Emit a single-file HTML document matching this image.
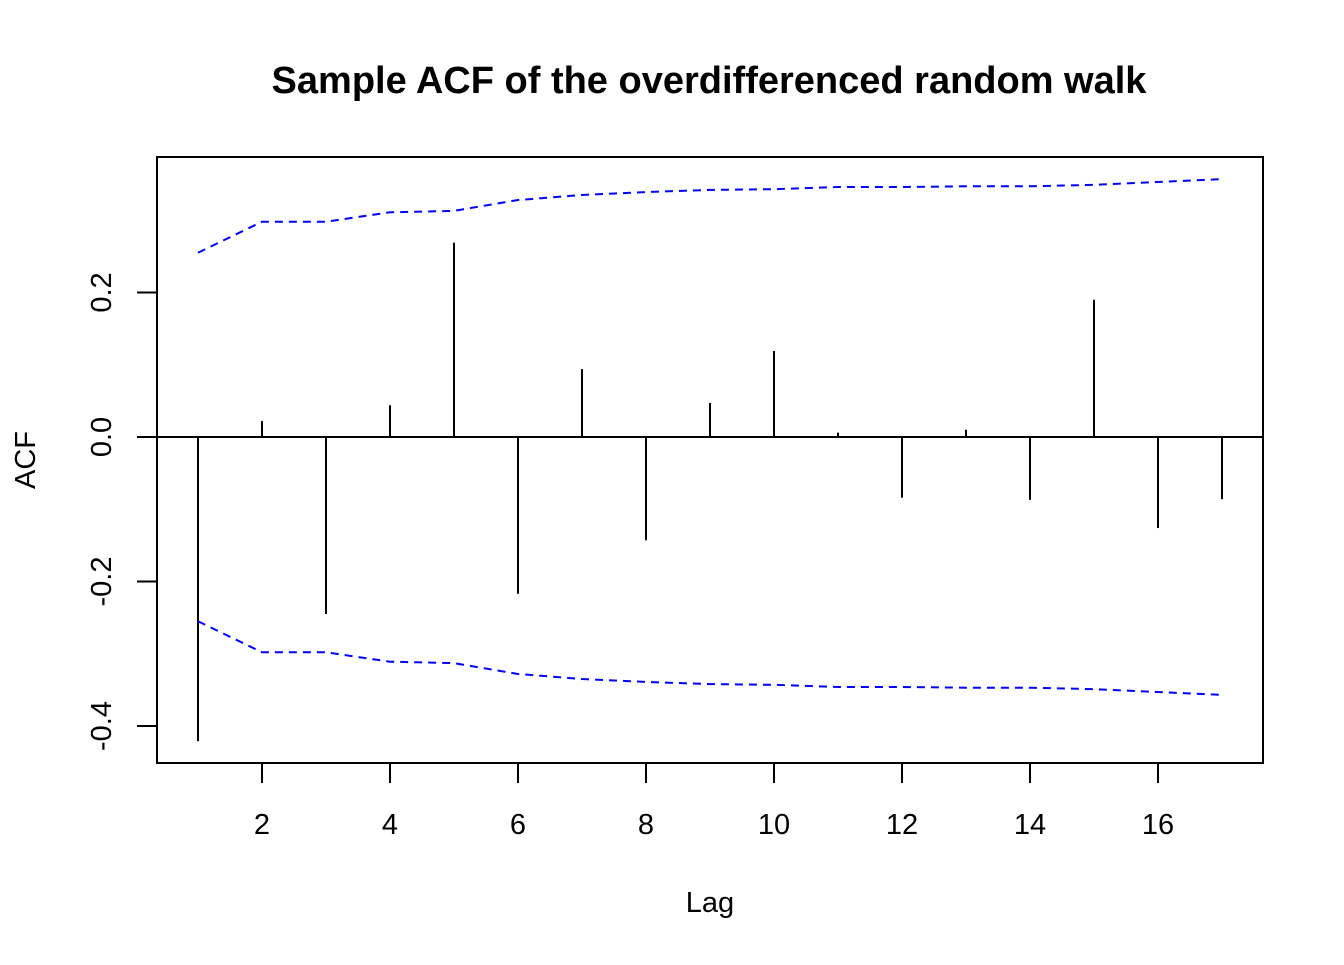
<!DOCTYPE html>
<html><head><meta charset="utf-8"><style>
html,body{margin:0;padding:0;background:#fff}
svg text{font-family:"Liberation Sans",Arial,sans-serif;fill:#000}
</style></head><body>
<svg id="chart" width="1344" height="960" xmlns="http://www.w3.org/2000/svg">
<text x="709" y="93" text-anchor="middle" font-size="38" font-weight="bold">Sample ACF of the overdifferenced random walk</text>
<rect x="157" y="157" width="1106" height="606" fill="none" stroke="#000" stroke-width="2"/>
<text x="710" y="912" text-anchor="middle" font-size="29">Lag</text>
<text transform="translate(35,460) rotate(-90)" text-anchor="middle" font-size="29">ACF</text>
<g id="marks"></g>
</svg>
<script>
const lags=[1,2,3,4,5,6,7,8,9,10,11,12,13,14,15,16,17];
const acfValues=[-0.421,0.022,-0.245,0.044,0.269,-0.217,0.094,-0.143,0.047,0.119,0.006,-0.084,0.010,-0.087,0.190,-0.126,-0.086];
const bounds=[0.255,0.298,0.298,0.311,0.313,0.328,0.335,0.339,0.342,0.343,0.346,0.346,0.347,0.347,0.349,0.353,0.357];
const xTicks=[2,4,6,8,10,12,14,16];
const yTicks=[-0.4,-0.2,0.0,0.2];
const yTickLabels=["-0.4","-0.2","0.0","0.2"];
const NS="http://www.w3.org/2000/svg";
const X=v=>198+(v-1)*64;
const Y=v=>437-v*722.5;
const g=document.getElementById('marks');
function mk(t,a){const e=document.createElementNS(NS,t);for(const k in a)e.setAttribute(k,a[k]);g.appendChild(e);return e;}
const zl=mk('line',{x1:157,x2:1263,y1:Y(0),y2:Y(0),stroke:'#000','stroke-width':2});


lags.forEach((l,i)=>{
 const b=mk('line',{x1:X(l),x2:X(l),y1:Y(0),y2:Y(acfValues[i]),stroke:'#000','stroke-width':2});
 
 
});
const up=lags.map((l,i)=>X(l)+','+Y(bounds[i])).join(' ');
const lo=lags.map((l,i)=>X(l)+','+Y(-bounds[i])).join(' ');
const pu=mk('polyline',{points:up,fill:'none',stroke:'#0000ff','stroke-width':2,'stroke-dasharray':'8,6'});


const pl=mk('polyline',{points:lo,fill:'none',stroke:'#0000ff','stroke-width':2,'stroke-dasharray':'8,6'});


xTicks.forEach(t=>{
 const l=mk('line',{x1:X(t),x2:X(t),y1:763,y2:783,stroke:'#000','stroke-width':2});
 
 
 const tx=mk('text',{x:X(t),y:834,'text-anchor':'middle','font-size':29});
 tx.textContent=t;
 
 
});
yTicks.forEach((t,i)=>{
 const l=mk('line',{x1:137,x2:157,y1:Y(t),y2:Y(t),stroke:'#000','stroke-width':2});
 
 
 const tx=mk('text',{transform:`translate(111,${Y(t)}) rotate(-90)`,'text-anchor':'middle','font-size':29});
 tx.textContent=yTickLabels[i];
 
 
});
</script>
</body></html>
